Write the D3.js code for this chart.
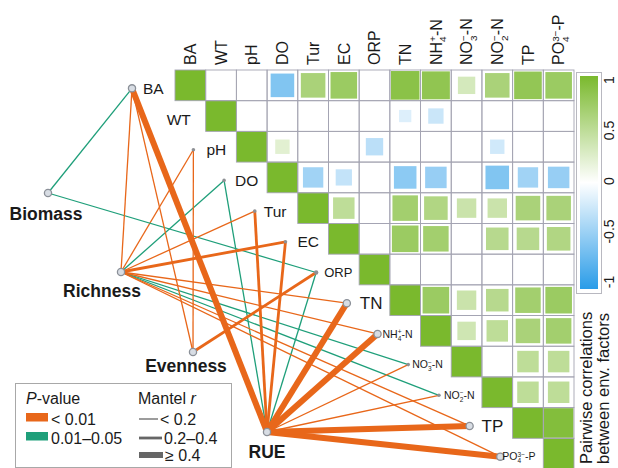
<!DOCTYPE html>
<html><head><meta charset="utf-8">
<script src="https://cdn.jsdelivr.net/npm/d3@7"></script>
<style>
body{margin:0;background:#fff}
svg{display:block}
text{font-family:"Liberation Sans",Arial,Helvetica,sans-serif;fill:#1a1a1a}
</style>
</head><body>
<svg id="chart" width="618" height="468"></svg>
<script>
// Environmental factors (rows/columns of the correlation matrix)
const factors = ["BA","WT","pH","DO","Tur","EC","ORP","TN","NH4","NO3","NO2","TP","PO4"];

// Pairwise Pearson r, upper triangle, each row starts at its diagonal; null = not significant
const rowBA  = [1, null, null, -0.59, 0.64, 0.75, null, 0.87, 0.83, 0.32, 0.64, 0.81, 0.75];
const rowWT  = [1, null, null, null, null, null, -0.16, -0.25, null, null, null, null];
const rowPH  = [1, 0.22, null, null, -0.32, null, null, null, -0.22, null, null];
const rowDO  = [1, -0.44, -0.28, null, -0.54, -0.49, null, -0.59, -0.44, -0.49];
const rowTur = [1, 0.49, null, 0.69, 0.59, 0.40, 0.40, 0.64, 0.64];
const rowEC  = [1, null, 0.75, 0.69, null, 0.54, 0.54, 0.59];
const rowORP = [1, null, null, null, null, null, null];
const rowTN  = [1, 0.75, 0.40, 0.54, 0.69, 0.75];
const rowNH4 = [1, 0.36, 0.49, 0.64, 0.69];
const rowNO3 = [1, null, 0.49, 0.49];
const rowNO2 = [1, 0.49, 0.49];
const rowTP  = [1, 0.93];
const rowPO4 = [1];
const corrRows = [rowBA,rowWT,rowPH,rowDO,rowTur,rowEC,rowORP,rowTN,rowNH4,rowNO3,rowNO2,rowTP,rowPO4];

// Colour bar ticks
const barTicks = [1, 0.5, 0, -0.5, -1];

// Community responses and Mantel tests against each factor
const responses = ["Biomass","Richness","Evenness","RUE"];
const mantelResponse = ["Biomass","Biomass",
  "Richness","Richness","Richness","Richness","Richness","Richness","Richness","Richness","Richness","Richness","Richness",
  "Evenness","Evenness","Evenness",
  "RUE","RUE","RUE","RUE","RUE","RUE","RUE","RUE","RUE","RUE","RUE"];
const mantelFactor = ["BA","ORP",
  "BA","pH","DO","Tur","EC","TN","NH4","NO3","NO2","TP","PO4",
  "BA","pH","ORP",
  "BA","DO","Tur","EC","ORP","TN","NH4","NO3","NO2","TP","PO4"];
const mantelR = [0.16,0.14,
  0.15,0.13,0.12,0.16,0.28,0.15,0.14,0.13,0.12,0.15,0.14,
  0.16,0.14,0.30,
  0.52,0.13,0.31,0.27,0.12,0.48,0.50,0.17,0.16,0.55,0.53];
const mantelP = [0.03,0.04,
  0.008,0.006,0.03,0.007,0.002,0.005,0.006,0.02,0.03,0.005,0.006,
  0.008,0.009,0.003,
  0.001,0.04,0.002,0.003,0.04,0.001,0.001,0.006,0.007,0.001,0.001];

// Legend entries
const pLabels = ["< 0.01","0.01\u20130.05"];
const rLabels = ["< 0.2","0.2\u20130.4","\u2265 0.4"];

// ---------------- drawing ----------------
const svg = d3.select("#chart");
const GREEN = "#7ab92d", BLUE = "#2a9ce8", ORANGE = "#e8671a", TEAL = "#1f9f7a";

const x = d3.scaleBand().domain(factors).range([175, 574]);
const y = d3.scaleBand().domain(factors).range([70, 469]);
const bw = x.bandwidth();
const color = d3.scaleLinear().domain([-1,0,1]).range([BLUE,"#ffffff",GREEN]);
const size = d3.scaleSqrt().domain([0,1]).range([0,bw]);

// heatmap cells
const cells = [];
corrRows.forEach((row,i)=>row.forEach((v,k)=>cells.push({r:factors[i], c:factors[i+k], v})));
const gHeat = svg.append("g");
gHeat.selectAll("rect.bg").data(cells).join("rect")
  .attr("x",d=>x(d.c)).attr("y",d=>y(d.r)).attr("width",bw).attr("height",bw)
  .attr("fill","#fff");
gHeat.selectAll("rect.val").data(cells.filter(d=>d.v!==null)).join("rect")
  .attr("x",d=>x(d.c)+(bw-size(Math.abs(d.v)))/2)
  .attr("y",d=>y(d.r)+(bw-size(Math.abs(d.v)))/2)
  .attr("width",d=>size(Math.abs(d.v))).attr("height",d=>size(Math.abs(d.v)))
  .attr("fill",d=>color(d.v));
gHeat.selectAll("rect.grid").data(cells).join("rect")
  .attr("x",d=>x(d.c)).attr("y",d=>y(d.r)).attr("width",bw).attr("height",bw)
  .attr("fill","none").attr("stroke","#a4a4b2").attr("stroke-width",0.9);

// rich labels with sub/superscripts
const labelParts = {
  BA:[["BA"]], WT:[["WT"]], pH:[["pH"]], DO:[["DO"]], Tur:[["Tur"]], EC:[["EC"]], ORP:[["ORP"]],
  TN:[["TN"]], TP:[["TP"]],
  NH4:[["NH"],["4","sub"],["+","sup"],["-N"]],
  NO3:[["NO"],["3","sub"],["\u2212","sup"],["-N"]],
  NO2:[["NO"],["2","sub"],["\u2212","sup"],["-N"]],
  PO4:[["PO"],["4","sub"],["3\u2212","sup"],["-P"]]
};
function writeLabel(sel, key, fs){
  const parts = labelParts[key];
  let prev = null;
  parts.forEach(([t,kind],idx)=>{
    const ts = sel.append("tspan").text(t);
    if(kind==="sub"){ ts.attr("font-size",fs*0.62).attr("dy",fs*0.28); }
    else if(kind==="sup"){ ts.attr("font-size",fs*0.62).attr("dy",-fs*0.62);
      if(prev==="sub") ts.attr("dx",-fs*0.34); }
    else { if(prev==="sup") ts.attr("dy",fs*0.34); }
    prev = kind||"n";
  });
}

// column headers (rotated)
const colFs = 16;
factors.forEach(f=>{
  const t = svg.append("text")
    .attr("transform",`translate(${x(f)+bw/2+colFs*0.36},65) rotate(-90)`)
    .attr("font-size",colFs);
  writeLabel(t,f,colFs);
});

// colour bar
const barY = d3.scaleLinear().domain([1,-1]).range([76,289]);
const defs = svg.append("defs");
const grad = defs.append("linearGradient").attr("id","cbar").attr("x1",0).attr("y1",0).attr("x2",0).attr("y2",1);
grad.append("stop").attr("offset","0%").attr("stop-color",GREEN);
grad.append("stop").attr("offset","50%").attr("stop-color","#ffffff");
grad.append("stop").attr("offset","100%").attr("stop-color",BLUE);
svg.append("rect").attr("x",576.5).attr("y",72.5).attr("width",25).attr("height",221)
  .attr("fill","#fff").attr("stroke","#b8b8c0");
svg.append("rect").attr("x",580).attr("y",barY(1)).attr("width",18).attr("height",barY(-1)-barY(1))
  .attr("fill","url(#cbar)");
const tickY = d3.scaleLinear().domain([1,-1]).range([80,282]);
barTicks.forEach(v=>{
  svg.append("text").attr("transform",`translate(614,${tickY(v)}) rotate(-90)`)
    .attr("text-anchor","middle").attr("font-size",14).attr("fill","#333").text(v);
});
["Pairwise correlations","between env. factors"].forEach((s,i)=>{
  svg.append("text").attr("transform",`translate(${592+i*17},464) rotate(-90)`)
    .attr("font-size",16.5).text(s);
});

// network node positions
const envPos = f=>[x(f)-43, y(f)+bw/2+3];
const respPos = {Biomass:[48,193], Richness:[121,272], Evenness:[193,352], RUE:[267,432]};

const widthOf = r=> r<0.2?1.3 : (r<0.4?2.8:6);
const colorOf = p=> p<0.01?ORANGE:TEAL;

const links = mantelR.map((r,i)=>({resp:mantelResponse[i], fac:mantelFactor[i], r, p:mantelP[i]}));
const gNet = svg.append("g");
gNet.selectAll("line").data(links.slice().sort((a,b)=>a.r-b.r)).join("line")
  .attr("x1",d=>respPos[d.resp][0]).attr("y1",d=>respPos[d.resp][1])
  .attr("x2",d=>envPos(d.fac)[0]).attr("y2",d=>envPos(d.fac)[1])
  .attr("stroke",d=>colorOf(d.p)).attr("stroke-width",d=>widthOf(d.r));

// nodes
const bigNode = new Set(["BA","TN","NH4","TP","PO4"]);
const linked = new Set(mantelFactor);
factors.filter(f=>linked.has(f)).forEach(f=>{
  const [nx,ny] = envPos(f);
  if(bigNode.has(f)){
    gNet.append("circle").attr("cx",nx).attr("cy",ny).attr("r",3.6)
      .attr("fill","#d8dde4").attr("stroke","#8b9098").attr("stroke-width",1.3);
  } else {
    gNet.append("circle").attr("cx",nx).attr("cy",ny).attr("r",f==="ORP"?2.2:1.8)
      .attr("fill","#8e9094");
  }
});
responses.forEach(rn=>{
  const [nx,ny] = respPos[rn];
  gNet.append("circle").attr("cx",nx).attr("cy",ny).attr("r",3.6)
    .attr("fill","#d8dde4").attr("stroke","#8b9098").attr("stroke-width",1.3);
});

// factor labels next to nodes
const envLabelStyle = {BA:[11,15.5],WT:[4,15.5],pH:[13,15.5],DO:[11,15.5],Tur:[9,15.5],EC:[12,15.5],
  ORP:[8,13],TN:[13,17],NH4:[5,10.5],NO3:[4,10.5],NO2:[5,10.5],TP:[12,17],PO4:[2,10.5]};
factors.forEach(f=>{
  const [nx,ny] = envPos(f);
  const [dx,fs] = envLabelStyle[f];
  const t = svg.append("text").attr("x",nx+dx).attr("y",ny+fs*0.36).attr("font-size",fs);
  writeLabel(t,f,fs);
});

// response labels
const respLabel = {Biomass:[-2,27], Richness:[-19,25], Evenness:[-7,20], RUE:[0,26]};
responses.forEach(rn=>{
  const [nx,ny] = respPos[rn];
  svg.append("text").attr("x",nx+respLabel[rn][0]).attr("y",ny+respLabel[rn][1])
    .attr("text-anchor","middle").attr("font-size",17.5).attr("font-weight","bold").text(rn);
});

// legend
const lg = svg.append("g");
lg.append("rect").attr("x",15.5).attr("y",383.5).attr("width",216).attr("height",84)
  .attr("fill","#fff").attr("stroke","#a8a8a8");
const pv = lg.append("text").attr("x",26).attr("y",404).attr("font-size",16);
pv.append("tspan").attr("font-style","italic").text("P");
pv.append("tspan").text("-value");
const mr = lg.append("text").attr("x",138).attr("y",404).attr("font-size",16);
mr.append("tspan").text("Mantel ");
mr.append("tspan").attr("font-style","italic").text("r");
[ORANGE,TEAL].forEach((c,i)=>{
  const yy = [425,444][i];
  lg.append("rect").attr("x",26).attr("y",yy-12).attr("width",22).attr("height",8.5).attr("fill",c);
  lg.append("text").attr("x",51).attr("y",yy).attr("font-size",16).text(pLabels[i]);
});
const legR = [0.1,0.3,0.5];
legR.forEach((r,i)=>{
  const yy = [425,444,461][i];
  const len = [19,23,24][i];
  lg.append("line").attr("x1",139).attr("x2",139+len).attr("y1",yy-6).attr("y2",yy-6)
    .attr("stroke","#666").attr("stroke-width",widthOf(r));
  lg.append("text").attr("x",141+len).attr("y",yy).attr("font-size",16).text(rLabels[i]);
});
</script>
</body></html>
